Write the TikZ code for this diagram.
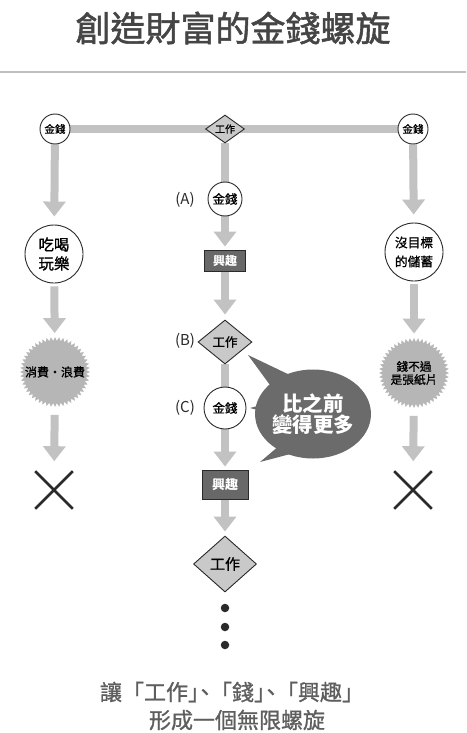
\documentclass[tikz,border=0pt]{standalone}
\usepackage{fontspec}
\setmainfont{Noto Sans CJK TC}
\newfontfamily\titlefont[RawFeature={embolden=1.6}]{Noto Sans CJK TC}
\newfontfamily\medfont[RawFeature={embolden=1.0}]{Noto Sans CJK TC}
\usetikzlibrary{arrows.meta,shapes.geometric,shapes.misc,backgrounds}
\definecolor{arr}{HTML}{C2C2C2}
\definecolor{burst}{HTML}{B6B6B6}
\definecolor{dia}{HTML}{C9C9C9}
\definecolor{boxc}{HTML}{686868}
\definecolor{bubc}{HTML}{6B6B6B}
\definecolor{ttl}{HTML}{454545}
\definecolor{ink}{HTML}{2A2A2A}
\definecolor{capc}{HTML}{5E5E5E}
\newcommand\setfs[2]{\fontsize{#1}{#2}\selectfont}
\begin{document}
\begin{tikzpicture}[x=1pt,y=-1pt,
  money/.style={circle, draw=ink, line width=0.9pt, fill=white, inner sep=0pt, minimum size=#1, align=center},
  work/.style n args={3}{diamond, draw=ink, line width=0.9pt, fill=dia, inner sep=0pt, minimum width=#1, minimum height=#2, label={center:\medfont#3}},
  hobby/.style n args={2}{rectangle, draw=ink, line width=0.9pt, fill=boxc, text=white, inner sep=0pt, minimum width=#1, minimum height=#2},
  burstnode/.style={star, star points=52, star point ratio=1.12, minimum size=70pt, inner sep=0pt, fill=burst},
  flow/.style={draw=arr, line width=8pt, -{Triangle[width=22pt,length=15pt]}},
  plain/.style={draw=arr, line width=8pt},
  nope/.style={cross out, draw=ink, line width=2.6pt, minimum size=35pt, inner sep=0pt},
  tag/.style={font=\setfs{15}{15}, text=ink, inner sep=0pt},
]
\useasboundingbox (0,0) rectangle (466,733);
% title
\node[text=ttl, font=\titlefont\setfs{35}{35}, inner sep=0pt] (title) at (233,28) {創造財富的金錢螺旋};
\coordinate (rl) at (0,72);
\coordinate (rr) at (466,72);
\draw[draw=black!25, line width=1.2pt] (rl) -- (rr);

% top row
\node[money=30pt, font=\medfont\setfs{10.5}{10.5}] (L0) at (55,129) {金錢};
\node[work={39pt}{28pt}{\setfs{10}{10}工作}] (T0) at (225,129) {};
\node[money=30pt, font=\medfont\setfs{10.5}{10.5}] (R0) at (413,129) {金錢};

% left column
\node[money=58pt, font=\medfont\setfs{15.5}{19}] (L1) at (54,254) {吃喝\\玩樂};
\node[burstnode] (L2) at (55,372) {};
\node[font=\medfont\setfs{12}{12}, inner sep=0pt] (L2t) at (55,372) {消費・浪費};
\node[nope] (L3) at (54,490) {};

% right column
\node[money=58pt, font=\medfont\setfs{12.7}{19}] (R1) at (414,252) {沒目標\\的儲蓄};
\node[burstnode] (R2) at (414,373) {};
\node[font=\medfont\setfs{11.7}{13}, inner sep=0pt, align=center] (R2t) at (414,373) {錢不過\\是張紙片};
\node[nope] (R3) at (413,490) {};

% center column
\node[money=34pt, font=\medfont\setfs{12.5}{12.5}] (A) at (225,199) {金錢};
\node[tag] (At) at (185,200) {(A)};
\node[hobby={41pt}{21pt}, font=\setfs{12}{12}\bfseries] (H1) at (225,260.5) {興趣};
\node[work={54pt}{44pt}{\setfs{12.5}{12.5}工作}] (B) at (225,342) {};
\node[tag] (Bt) at (185,341) {(B)};
\node[money=42pt, font=\medfont\setfs{12.5}{12.5}] (C) at (225,408) {金錢};
\node[tag] (Ct) at (185,408) {(C)};
\node[hobby={46pt}{29pt}, font=\setfs{13}{13}\bfseries] (H2) at (225,484.5) {興趣};
\node[work={63pt}{56pt}{\setfs{15}{15}工作}] (D) at (225,564) {};
\node[circle, fill=ink, inner sep=0pt, minimum size=8.5pt] (d1) at (225,608) {};
\node[circle, fill=ink, inner sep=0pt, minimum size=8.5pt] (d2) at (225,627) {};
\node[circle, fill=ink, inner sep=0pt, minimum size=8.5pt] (d3) at (225,645) {};

% speech bubble
\node[ellipse, fill=bubc, minimum width=97pt, minimum height=89pt, inner sep=0pt, text=white,
      font=\setfs{20.5}{19}\bfseries, align=center] (bub) at (313,414) {比之前\\變得更多};
\coordinate (w1) at (248,355);
\coordinate (w2) at (250,408);
\coordinate (w3) at (260,462);

% caption
\node[text=capc, font=\medfont\setfs{22}{22}, inner sep=0pt] (cap1) at (232,692)
  {讓「工作」\kern-0.73em、\kern-0.27em「錢」\kern-0.73em、\kern-0.27em「興趣」};
\node[text=capc, font=\medfont\setfs{22}{22}, inner sep=0pt] (cap2) at (237,720) {形成一個無限螺旋};

\begin{scope}[on background layer]
  \draw[plain] (L0) -- (R0);
  \draw[flow, shorten >=8pt] (L0) -- (L1);
  \draw[flow, shorten <=3pt, shorten >=4pt] (L1) -- (L2);
  \draw[flow, shorten <=8pt, shorten >=10pt] (L2) -- (L3);
  \draw[flow, shorten >=8pt] (R0) -- (R1);
  \draw[flow, shorten <=3pt, shorten >=4pt] (R1) -- (R2);
  \draw[flow, shorten <=8pt, shorten >=10pt] (R2) -- (R3);
  \draw[plain] (T0) -- (A);
  \draw[flow, shorten >=3pt] (A) -- (H1);
  \draw[flow, shorten >=5pt] (H1) -- (B);
  \draw[plain] (B) -- (C);
  \draw[flow, shorten >=3pt] (C) -- (H2);
  \draw[flow, shorten >=4pt] (H2) -- (D);
  \fill[bubc] (w1) -- (292,376) -- (278,396) -- cycle;
  \fill[bubc] (w2) -- (276,401) -- (276,415) -- cycle;
  \fill[bubc] (w3) -- (286,440) -- (298,452) -- cycle;
\end{scope}
\end{tikzpicture}
\end{document}
